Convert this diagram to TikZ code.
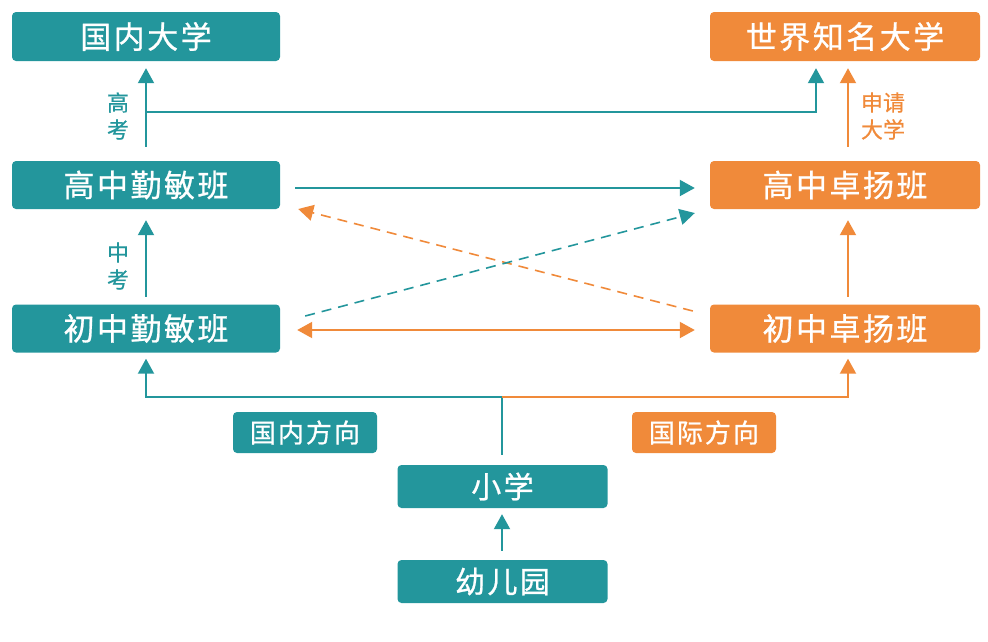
\documentclass[tikz,border=0pt]{standalone}
\usepackage{fontspec}
\setmainfont{Noto Sans CJK SC}
\newfontfamily\boxfont{Noto Sans CJK SC}[LetterSpace=8,FakeBold=0.8]
\newfontfamily\labfont{Noto Sans CJK SC}[FakeBold=0.6]
\usetikzlibrary{arrows.meta,calc}
\definecolor{teal0}{RGB}{35,150,156}
\definecolor{orng0}{RGB}{240,138,58}
\tikzset{
  boxbase/.style={rectangle, rounded corners=4pt, text=white, inner sep=0pt, minimum width=268pt, minimum height=48pt, font=\boxfont\fontsize{31pt}{36pt}\selectfont},
  tbox/.style={boxbase, fill=teal0},
  obox/.style={boxbase, fill=orng0},
  tag/.style={rectangle, rounded corners=4pt, text=white, inner sep=0pt, minimum width=144pt, minimum height=41pt, font=\boxfont\fontsize{26pt}{30pt}\selectfont},
  sidelab/.style={align=center, inner sep=0pt, font=\labfont\fontsize{22pt}{27pt}\selectfont},
  tline/.style={draw=teal0, line width=2pt},
  oline/.style={draw=orng0, line width=2pt},
  tip0/.tip={Triangle[width=16pt,length=15pt]},
  tarr/.style={tline, -tip0},
  oarr/.style={oline, -tip0},
  oarrb/.style={oline, tip0-tip0},
  tdash/.style={draw=teal0, line width=1.6pt, dash pattern=on 10pt off 7pt, -tip0},
  odash/.style={draw=orng0, line width=1.6pt, dash pattern=on 10pt off 7pt, -tip0},
}
\begin{document}
\begin{tikzpicture}[x=1pt,y=-1pt]
\useasboundingbox (0,0) rectangle (988,641);
% boxes
\node[tbox, minimum height=49pt] (guonei) at (146,36.5) {国内大学};
\node[obox, minimum width=270pt, minimum height=49pt] (shijie) at (845,36.5) {世界知名大学};
\node[tbox] (gaoqin) at (146,185) {高中勤敏班};
\node[obox, minimum width=270pt] (gaozhuo) at (845,185) {高中卓扬班};
\node[tbox] (chuqin) at (146,328.5) {初中勤敏班};
\node[obox, minimum width=270pt] (chuzhuo) at (845,328.5) {初中卓扬班};
\node[tag, fill=teal0] (gn) at (305,432.5) {国内方向};
\node[tag, fill=orng0] (gj) at (704,432.5) {国际方向};
\node[tbox, minimum width=210pt, minimum height=43pt, font=\boxfont\fontsize{30pt}{34pt}\selectfont] (xiaoxue) at (502.5,486.5) {小学};
\node[tbox, minimum width=210pt, minimum height=43pt, font=\boxfont\fontsize{30pt}{34pt}\selectfont] (you) at (502.5,581.5) {幼儿园};
% side labels
\node[sidelab, text=teal0] (gk) at (118,116) {高\\考};
\node[sidelab, text=teal0] (zk) at (118,266) {中\\考};
\node[sidelab, text=orng0] (sq) at (883,116) {申请\\大学};
% connectors top
\draw[tarr] ([yshift=14pt]gaoqin.north) -- ([yshift=-7pt]guonei.south);
\coordinate (j1) at (146,112);
\draw[tarr] (j1) -| ([xshift=-29pt,yshift=-7pt]shijie.south);
\draw[oarr] ([xshift=3pt,yshift=14pt]gaozhuo.north) -- ([xshift=3pt,yshift=-7pt]shijie.south);
% middle
\draw[tarr] ([xshift=15pt,yshift=-3pt]gaoqin.east) -- ([xshift=-15pt,yshift=-3pt]gaozhuo.west);
\draw[odash] ([xshift=-17pt,yshift=17.5pt]chuzhuo.west) -- ([xshift=18pt,yshift=-24pt]gaoqin.east);
\draw[tdash] ([xshift=25pt,yshift=12.5pt]chuqin.east) -- ([xshift=-15pt,yshift=-28pt]gaozhuo.west);
\draw[oarrb] ([xshift=17pt,yshift=-1.5pt]chuqin.east) -- ([xshift=-15pt,yshift=-1.5pt]chuzhuo.west);
\draw[tarr] ([yshift=7.5pt]chuqin.north) -- ([yshift=-11pt]gaoqin.south);
\draw[oarr] ([xshift=3pt,yshift=7.5pt]chuzhuo.north) -- ([xshift=3pt,yshift=-11pt]gaozhuo.south);
% bottom
\coordinate (j2) at (502,397);
\draw[tline] ([xshift=-0.5pt,yshift=10pt]xiaoxue.north) -- (j2);
\draw[tarr] (j2) -| ([yshift=-6pt]chuqin.south);
\draw[oarr] (j2) -| ([xshift=3pt,yshift=-6pt]chuzhuo.south);
\draw[tarr] ([xshift=-0.5pt,yshift=9pt]you.north) -- ([xshift=-0.5pt,yshift=-6pt]xiaoxue.south);
\end{tikzpicture}
\end{document}
